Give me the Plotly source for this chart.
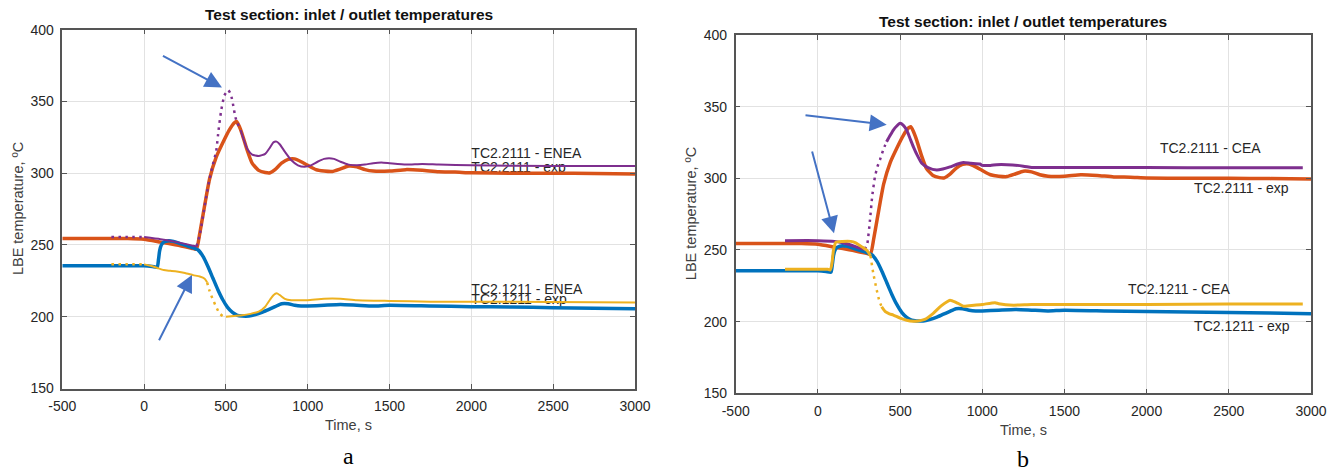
import plotly.graph_objects as go

# ---------------- data ----------------
# experimental (same measurement in both panels)
exp_out_t = [-500, -300, -100, 0, 100, 200, 300, 320, 340, 360, 380, 400, 440, 480, 520, 550, 565,
             580, 600, 630, 660, 700, 740, 770, 800, 840, 880, 920, 960, 1000, 1050, 1100, 1150,
             1200, 1250, 1300, 1350, 1400, 1500, 1600, 1700, 1800, 1900, 2000, 2250, 2500, 2750, 3000]
exp_out_T = [254.5, 254.5, 254.5, 254, 252, 250, 247.5, 247, 258, 271, 284, 296, 311, 321, 330, 335, 336,
             333, 327, 316, 307, 302, 300.5, 300.3, 302.5, 307, 309.7, 310, 308, 305.5, 302.5, 301.5, 301.2,
             303, 305, 304.5, 302.5, 301.5, 301.5, 302.5, 302, 301, 300.8, 300.3, 300, 300, 299.8, 299.5]

exp_in_t = [-500, -300, -100, 0, 50, 80, 88, 95, 105, 120, 150, 180, 220, 260, 300, 330, 360, 390,
            420, 450, 480, 510, 540, 570, 600, 640, 680, 720, 760, 800, 840, 880, 920, 960, 1000,
            1100, 1200, 1300, 1400, 1500, 1750, 2000, 2250, 2500, 2750, 3000]
exp_in_T = [235.5, 235.5, 235.5, 235.5, 235, 234.5, 240, 246, 250, 252, 253, 252.5, 251, 249.5, 248,
            246.5, 242, 235, 227, 219, 212, 206.5, 203, 201, 200.5, 200.5, 201.5, 203, 205, 207, 209,
            209, 208, 207.5, 207.5, 208, 208.5, 208, 207.5, 208, 207.5, 207, 206.8, 206.3, 206, 205.5]

# panel a: ENEA simulation
enea_out_t = [-200, -100, 0, 100, 200, 300, 320, 340, 360, 380, 400, 420, 440, 455, 470, 490, 513,
              530, 545, 558, 570, 590, 610, 630, 660, 700, 740, 770, 790, 810, 830, 860, 900, 940,
              980, 1020, 1060, 1100, 1130, 1160, 1200, 1250, 1300, 1350, 1400, 1450, 1500, 1600,
              1700, 1800, 2000, 2500, 3000]
enea_out_T = [255.5, 255.5, 255.5, 254, 252, 249.5, 249, 257, 270, 284, 296, 306, 315, 330, 343, 354, 358,
              355, 347, 339, 335, 330, 323, 317, 313, 312, 313.5, 318, 321.5, 322, 320, 315, 309, 305.5,
              304.5, 305.5, 308, 310, 310.5, 310, 308, 306, 305.5, 306, 307, 307.5, 307, 306,
              306.5, 306, 305.5, 305, 305]

enea_in_t = [-200, -100, 0, 40, 80, 120, 160, 200, 250, 300, 340, 370, 385, 400, 420, 440, 460, 480,
             500, 550, 600, 650, 700, 740, 770, 790, 810, 830, 860, 900, 950, 1000, 1100, 1200, 1300,
             1500, 1750, 2000, 2500, 3000]
enea_in_T = [236.5, 236.5, 236.5, 235.5, 234, 232.5, 232, 231.5, 230.5, 229, 228, 226.5, 224, 218, 212,
             207, 202.5, 200.5, 200, 200.5, 201, 202, 203.5, 207, 212, 215, 216.3, 215, 212.5, 211.5,
             211.5, 211.5, 212.5, 212.5, 211.5, 211, 210.5, 210.5, 210.3, 210]

# panel b: CEA simulation
cea_out_t = [-200, 0, 100, 150, 200, 250, 285, 300, 317, 330, 347, 362, 378, 398, 418, 440, 459, 480,
             500, 520, 540, 560, 581, 605, 632, 670, 723, 760, 804, 850, 885, 930, 986, 1000, 1050,
             1087, 1150, 1250, 1300, 1350, 1500, 2000, 2500, 2950]
cea_out_T = [256.5, 256.5, 256, 255, 253.5, 251.5, 250.5, 254, 271, 287, 301, 308, 313, 320, 325.5, 330,
             333.7, 336.5, 338.4, 337, 333.7, 328, 322, 316, 310.5, 307.5, 305.8, 306.5, 308, 310, 311,
             310.5, 310, 309, 309, 309.5, 309.5, 308.5, 307.5, 307.5, 307.5, 307.5, 307.3, 307.3]

cea_in_t = [-200, 0, 60, 75, 85, 95, 110, 150, 200, 230, 270, 300, 320, 337, 358, 375, 388, 410, 435,
            459, 500, 540, 580, 611, 650, 702, 750, 804, 840, 885, 950, 1000, 1078, 1100, 1190, 1300,
            1500, 2000, 2500, 2950]
cea_in_T = [236.5, 236.5, 236.5, 236, 240, 250, 255.5, 256, 256, 255, 252, 249.5, 246, 233.7, 222, 214,
            210.4, 207, 205.5, 204.6, 202.5, 201, 200.3, 200.5, 201.5, 205.8, 211, 215, 213.5, 210.8,
            211.5, 212, 213.2, 212.5, 211.5, 212, 212, 212, 212.3, 212.3]

x_ticks = [-500, 0, 500, 1000, 1500, 2000, 2500, 3000]
y_ticks = [150, 200, 250, 300, 350, 400]

title_text = "Test section: inlet / outlet temperatures"
x_title = "Time, s"
y_title = "LBE temperature, ºC"

labels_a = ["TC2.2111 - ENEA", "TC2.2111 - exp", "TC2.1211 - ENEA", "TC2.1211 - exp"]
labels_a_t = [2000, 2000, 2000, 2000]
labels_a_T = [312.7, 303.4, 218.6, 211]
labels_b = ["TC2.2111 - CEA", "TC2.2111 - exp", "TC2.1211 - CEA", "TC2.1211 - exp"]
labels_b_t = [2081, 2289, 1887, 2289]
labels_b_T = [319.8, 292.3, 221.4, 195.8]

# ---------------- styling ----------------
W, H = 1343, 471
ORANGE = "#D95319"
BLUE = "#0072BD"
PURPLE = "#7E2F8E"
YELLOW = "#EDB120"
ARROW = "#4472C4"
TXT = "#262626"
FONT = "Liberation Sans, Arial, sans-serif"


def px(X):
    return X / W


def py(Y):
    return 1 - Y / H


# pixel frames of the two plot boxes (window coordinates)
boxes = {
    "a": dict(x0=62.3, x1=635.0, y0=29.7, y1=388.5),
    "b": dict(x0=735.7, x1=1311.0, y0=35.0, y1=393.3),
}


def pieces(t, v, dotted):
    """split a curve into solid / dotted polylines by time ranges"""
    out = []
    cur_style, cur_t, cur_v = None, [], []
    for i in range(len(t) - 1):
        mid = 0.5 * (t[i] + t[i + 1])
        st = any(a <= mid <= b for a, b in dotted)
        if st != cur_style:
            if cur_t:
                out.append((cur_style, cur_t, cur_v))
            cur_style, cur_t, cur_v = st, [t[i]], [v[i]]
        cur_t.append(t[i + 1])
        cur_v.append(v[i + 1])
    if cur_t:
        out.append((cur_style, cur_t, cur_v))
    return out


fig = go.Figure()


def add_curve(t, v, color, width, xa, ya, dotted=(), dot_width=None):
    for is_dot, tt, vv in pieces(t, v, dotted):
        if is_dot:
            line = dict(color=color, width=dot_width or width, dash="2.5px,4.5px", shape="spline", smoothing=0.5)
        else:
            line = dict(color=color, width=width, shape="spline", smoothing=0.5)
        fig.add_trace(go.Scatter(x=tt, y=vv, mode="lines", line=line, xaxis=xa, yaxis=ya,
                                 hoverinfo="skip", showlegend=False))


def add_labels(txts, tt, vv, xa, ya):
    fig.add_trace(go.Scatter(x=tt, y=vv, text=txts, mode="text", textposition="middle right",
                             textfont=dict(family=FONT, size=14, color=TXT), xaxis=xa, yaxis=ya,
                             hoverinfo="skip", showlegend=False, cliponaxis=False))


# panel a
add_labels(labels_a, labels_a_t, labels_a_T, "x", "y")
add_curve(exp_out_t, exp_out_T, ORANGE, 3.5, "x", "y")
add_curve(exp_in_t, exp_in_T, BLUE, 3.5, "x", "y")
add_curve(enea_out_t, enea_out_T, PURPLE, 2, "x", "y", dotted=[(-210, -10), (330, 590)], dot_width=2.5)
add_curve(enea_in_t, enea_in_T, YELLOW, 2, "x", "y", dotted=[(-210, -10), (385, 495)], dot_width=2.5)

# panel b
add_labels(labels_b, labels_b_t, labels_b_T, "x2", "y2")
add_curve(exp_out_t, exp_out_T, ORANGE, 3.5, "x2", "y2")
add_curve(exp_in_t, exp_in_T, BLUE, 3.5, "x2", "y2")
add_curve(cea_out_t, cea_out_T, PURPLE, 3, "x2", "y2", dotted=[(290, 420)], dot_width=2.5)
add_curve(cea_in_t, cea_in_T, YELLOW, 3, "x2", "y2", dotted=[(325, 385)], dot_width=2.5)

axis_common = dict(
    showline=True, linecolor="#555555", linewidth=1.5, mirror="ticks",
    ticks="inside", ticklen=5, tickwidth=1.2, tickcolor="#555555",
    showgrid=True, gridcolor="#e2e2e2", gridwidth=1, zeroline=False,
    tickfont=dict(family=FONT, size=14, color=TXT), automargin=False,
)

annotations = []
for key, xa, ya, letter in [("a", "xaxis", "yaxis", "a"), ("b", "xaxis2", "yaxis2", "b")]:
    b = boxes[key]
    xd = [px(b["x0"]), px(b["x1"])]
    yd = [py(b["y1"]), py(b["y0"])]
    anchor_x = "y" if key == "a" else "y2"
    anchor_y = "x" if key == "a" else "x2"
    fig.update_layout(**{
        xa: dict(axis_common, domain=xd, anchor=anchor_x, range=[x_ticks[0], x_ticks[-1]],
                 tickvals=x_ticks, ticktext=[str(v) for v in x_ticks], ticklabelstandoff=4),
        ya: dict(axis_common, domain=yd, anchor=anchor_y, range=[y_ticks[0], y_ticks[-1]],
                 tickvals=y_ticks, ticktext=[str(v) for v in y_ticks], ticklabelstandoff=4),
    })
    cx = 0.5 * (b["x0"] + b["x1"])
    cy = 0.5 * (b["y0"] + b["y1"])
    title_y = 15 if key == "a" else 22
    time_y = 425 if key == "a" else 430
    ylab_x = 18 if key == "a" else 691
    letter_y = 456 if key == "a" else 459
    annotations += [
        dict(text="<b>" + title_text + "</b>", x=px(cx), y=py(title_y), xref="paper", yref="paper",
             showarrow=False, xanchor="center", yanchor="middle",
             font=dict(family=FONT, size=15.5, color="#111111")),
        dict(text=x_title, x=px(cx), y=py(time_y), xref="paper", yref="paper",
             showarrow=False, xanchor="center", yanchor="middle",
             font=dict(family=FONT, size=14.5, color="#404040")),
        dict(text=y_title, x=px(ylab_x), y=py(cy), xref="paper", yref="paper", textangle=-90,
             showarrow=False, xanchor="center", yanchor="middle",
             font=dict(family=FONT, size=14.5, color="#404040")),
        dict(text=letter, x=px(cx), y=py(letter_y), xref="paper", yref="paper",
             showarrow=False, xanchor="center", yanchor="middle",
             font=dict(family="Liberation Serif, Times New Roman, serif", size=24, color="#000000")),
    ]

# arrows (tip, tail) in data coordinates
arrows = [
    ("x", "y", 476, 359.8, 106, 382.4),
    ("x", "y", 292.6, 229.1, 86.7, 182.6),
    ("x2", "y2", 418.6, 337.3, -84.5, 344.2),
    ("x2", "y2", 98, 261.6, -37.6, 319.7),
]
for xr, yr, x, y, ax, ay in arrows:
    annotations.append(dict(x=x, y=y, ax=ax, ay=ay, xref=xr, yref=yr, axref=xr, ayref=yr,
                            text="", showarrow=True, arrowhead=2, arrowsize=1.7, arrowwidth=2,
                            arrowcolor=ARROW, standoff=0))

fig.update_layout(
    width=W, height=H, margin=dict(l=0, r=0, t=0, b=0),
    paper_bgcolor="white", plot_bgcolor="white", showlegend=False,
    annotations=annotations,
)

# remove the browser's default 8 px body margin so the figure fills the window exactly
fig.write_html("out.html", config={"displayModeBar": False},
               post_script="document.body.style.margin='0';document.body.style.overflow='hidden';")
